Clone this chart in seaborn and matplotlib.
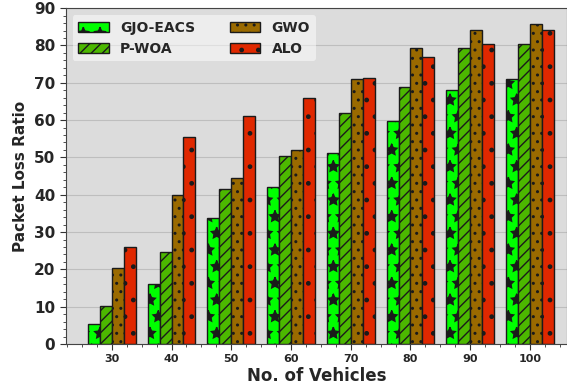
import matplotlib
matplotlib.use("Agg")

import matplotlib.pyplot as plt
import pandas as pd
import seaborn as sns
from matplotlib.ticker import AutoMinorLocator, MultipleLocator

vehicles = [30, 40, 50, 60, 70, 80, 90, 100]
gjo_eacs = [5.4, 16.1, 33.9, 42.2, 51.2, 59.8, 68.0, 71.0]
p_woa = [10.2, 24.7, 41.5, 50.5, 62.0, 69.0, 79.2, 80.4]
gwo = [20.5, 40.0, 44.5, 52.0, 71.0, 79.4, 84.2, 85.7]
alo = [25.9, 55.5, 61.0, 66.0, 71.4, 77.0, 80.4, 84.1]

methods = ["GJO-EACS", "P-WOA", "GWO", "ALO"]
colors = ["#00ff00", "#4cb800", "#9a6a00", "#e02800"]
hatches = ["*", "///", "..", "."]

df = pd.DataFrame({
    "vehicles": vehicles * 4,
    "method": sum([[m] * len(vehicles) for m in methods], []),
    "value": gjo_eacs + p_woa + gwo + alo,
})

sns.set_style("darkgrid", {
    "axes.facecolor": "#dcdcdc",
    "grid.color": "#bebebe",
    "axes.edgecolor": "#444444",
})
plt.rcParams["font.family"] = ["DejaVu Sans"]
plt.rcParams["hatch.linewidth"] = 1.0

fig, ax = plt.subplots(figsize=(5.67, 3.87), dpi=100)
fig.subplots_adjust(left=0.116, right=1.0, top=0.979, bottom=0.111)

sns.barplot(data=df, x="vehicles", y="value", hue="method",
            hue_order=methods, palette=colors, saturation=1, width=0.8,
            edgecolor="#1a1a1a", linewidth=1.0, ax=ax, legend=False)

for cont, h in zip(ax.containers, hatches):
    for bar in cont:
        bar.set_hatch(h)

ax.set_xlim(-0.77, 7.62)
ax.set_ylim(0, 90)
ax.yaxis.set_major_locator(MultipleLocator(10))
ax.yaxis.set_minor_locator(AutoMinorLocator(5))
ax.xaxis.set_minor_locator(MultipleLocator(0.25))
ax.tick_params(axis="both", which="both", direction="out", left=True,
               bottom=True, color="#333333")
ax.tick_params(axis="both", which="major", length=4)
ax.tick_params(axis="both", which="minor", length=2)
ax.tick_params(axis="y", labelsize=11)
ax.tick_params(axis="x", labelsize=8)
for lbl in ax.get_xticklabels() + ax.get_yticklabels():
    lbl.set_fontweight("bold")

ax.set_xlabel("No. of Vehicles", fontsize=12, fontweight="bold", labelpad=2)
ax.set_ylabel("Packet Loss Ratio", fontsize=11, fontweight="bold")

ax.legend(ax.containers, methods, ncol=2, loc="upper left",
          prop={"weight": "bold", "size": 10}, framealpha=0.5,
          facecolor="white", edgecolor="none", columnspacing=2.5,
          handlelength=2.2)

fig.savefig("out.png", dpi=100)
